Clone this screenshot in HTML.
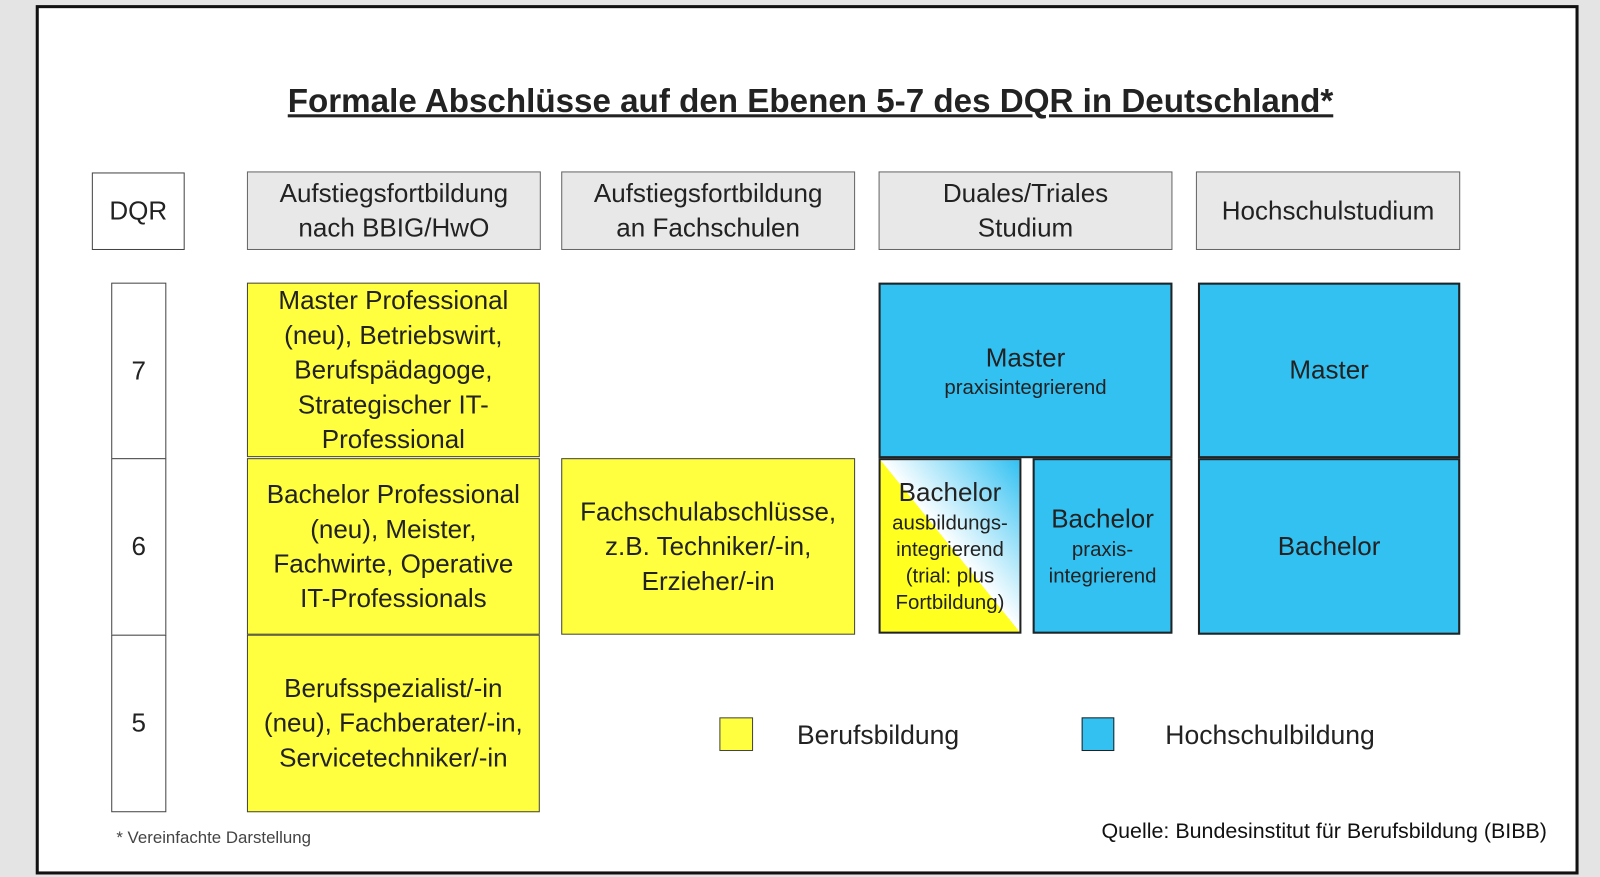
<!DOCTYPE html>
<html><head><meta charset="utf-8"><style>
body{margin:0;width:1600px;height:877px;background:#e4e4e4;position:relative;overflow:hidden;font-family:"Liberation Sans",sans-serif;color:#222}
#w{position:absolute;left:0;top:0;width:1568px;height:859px;transform:scale(1.020408);transform-origin:0 0}
.frame{position:absolute;left:35px;top:5px;width:1506px;height:846px;background:#fff;border:3px solid #111}
.b{position:absolute;box-sizing:border-box;border:1.5px solid #444;display:flex;align-items:center;justify-content:center;text-align:center;font-size:25.5px;line-height:34px}
.h{background:#e8e8e8;border-color:#666}
.y{background:#ffff40}
.c{background:#33c1f2;border:2px solid #222}
.w{background:#fff}
.s{font-size:20px;line-height:26px}
.t{position:absolute;white-space:nowrap}
</style></head><body><div id="w">
<div class="frame"></div>
<div class="t" style="left:282px;top:81px;font-size:32.5px;font-weight:bold;text-decoration:underline">Formale Abschlüsse auf den Ebenen 5-7 des DQR in Deutschland*</div>
<div class="b w" style="left:90px;top:169px;width:91px;height:76px">DQR</div>
<div class="b h" style="left:242px;top:168px;width:288px;height:77px">Aufstiegsfortbildung<br>nach BBIG/HwO</div>
<div class="b h" style="left:550px;top:168px;width:288px;height:77px">Aufstiegsfortbildung<br>an Fachschulen</div>
<div class="b h" style="left:861px;top:168px;width:288px;height:77px">Duales/Triales<br>Studium</div>
<div class="b h" style="left:1172px;top:168px;width:259px;height:77px">Hochschulstudium</div>
<div class="b w" style="left:109px;top:277px;width:54px;height:173px">7</div>
<div class="b w" style="left:109px;top:449px;width:54px;height:174px">6</div>
<div class="b w" style="left:109px;top:622px;width:54px;height:174px">5</div>
<div class="b y" style="left:242px;top:277px;width:287px;height:171px">Master Professional<br>(neu), Betriebswirt,<br>Berufspädagoge,<br>Strategischer IT-<br>Professional</div>
<div class="b y" style="left:242px;top:449px;width:287px;height:173px">Bachelor Professional<br>(neu), Meister,<br>Fachwirte, Operative<br>IT-Professionals</div>
<div class="b y" style="left:242px;top:622px;width:287px;height:174px">Berufsspezialist/-in<br>(neu), Fachberater/-in,<br>Servicetechniker/-in</div>
<div class="b y" style="left:550px;top:449px;width:288px;height:173px">Fachschulabschlüsse,<br>z.B. Techniker/-in,<br>Erzieher/-in</div>
<div class="b c" style="left:861px;top:277px;width:288px;height:172px;flex-direction:column"><div>Master</div><div class="s" style="line-height:24px">praxisintegrierend</div></div>
<div class="b" style="left:861px;top:449px;width:140px;height:172px;flex-direction:column;border:2px solid #222;background:linear-gradient(to top right,#ffff20 0,#ffff20 50%,#fff 50%,#33c1f2 100%)"><div>Bachelor</div><div class="s">ausbildungs-<br>integrierend<br>(trial: plus<br>Fortbildung)</div></div>
<div class="b c" style="left:1012px;top:449px;width:137px;height:172px;flex-direction:column"><div>Bachelor</div><div class="s">praxis-<br>integrierend</div></div>
<div class="b c" style="left:1174px;top:277px;width:257px;height:172px">Master</div>
<div class="b c" style="left:1174px;top:449px;width:257px;height:173px">Bachelor</div>
<div class="b y" style="left:705px;top:703px;width:33px;height:33px"></div>
<div class="t" style="left:781px;top:705px;font-size:26px">Berufsbildung</div>
<div class="b c" style="left:1060px;top:703px;width:32px;height:33px;border-width:1.5px"></div>
<div class="t" style="left:1142px;top:705px;font-size:26px">Hochschulbildung</div>
<div class="t" style="left:114px;top:812px;font-size:16.5px;color:#444">* Vereinfachte Darstellung</div>
<div class="t" style="right:52px;top:803px;font-size:21px;color:#111">Quelle: Bundesinstitut für Berufsbildung (BIBB)</div>
</div></body></html>
